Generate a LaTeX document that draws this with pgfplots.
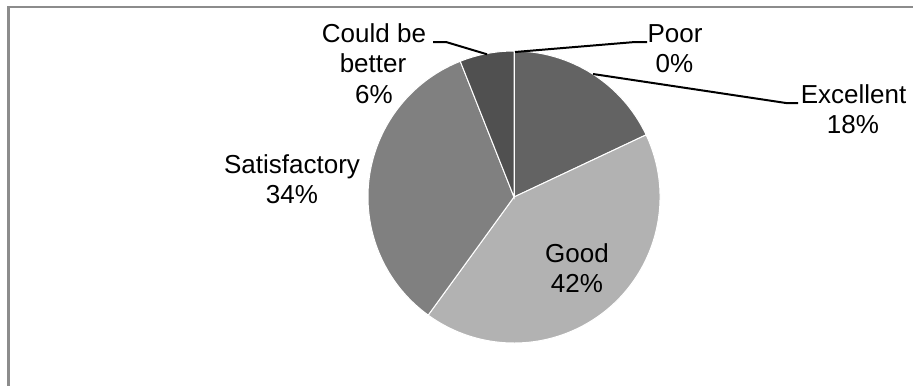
\documentclass[border=0pt]{standalone}
\usepackage{fontspec}
\setmainfont{Liberation Sans}
\usepackage{pgfplots}
\usepackage{pgfplotstable}
\pgfplotsset{compat=1.18}

\definecolor{cExc}{HTML}{636363}
\definecolor{cGood}{HTML}{B2B2B2}
\definecolor{cSat}{HTML}{808080}
\definecolor{cCould}{HTML}{505050}
\definecolor{cPoor}{HTML}{404040}
\definecolor{framegray}{HTML}{8C8C8C}

% survey answers, in percent (clockwise from 12 o'clock)
% 0 Excellent, 1 Good, 2 Satisfactory, 3 Could be better, 4 Poor
\pgfplotstableread{
idx value
0 18
1 42
2 34
3 6
4 0
}\piedata

% one wedge of the pie, from the precomputed start/end angles
\newcommand\slice[2]{%
  \edef\tmp{\noexpand\fill[#2, draw=white, line width=0.5pt]
    (axis cs:514,188) -- ++(\csname pieS#1\endcsname:73pt)
    arc[start angle=\csname pieS#1\endcsname, end angle=\csname pieE#1\endcsname, radius=73pt]
    -- cycle;}%
  \tmp}

\tikzset{lbl/.style={font=\fontsize{13}{15}\selectfont, anchor=base, inner sep=0pt},
         lead/.style={black, line width=1pt}}

\begin{document}
\begin{tikzpicture}
% cumulative angles of every wedge
\def\cum{0}
\pgfplotsforeachungrouped \i in {0,...,4}{%
  \pgfplotstablegetelem{\i}{value}\of\piedata
  \pgfmathsetmacro\angstart{90-3.6*\cum}%
  \pgfmathsetmacro\cum{\cum+\pgfplotsretval}%
  \pgfmathsetmacro\angend{90-3.6*\cum}%
  \expandafter\xdef\csname pieS\i\endcsname{\angstart}%
  \expandafter\xdef\csname pieE\i\endcsname{\angend}%
}
\begin{axis}[hide axis, scale only axis, width=456.5pt, height=192.5pt,
  xmin=0, xmax=913, ymin=0, ymax=385, clip=false]

% chart frame
\draw[framegray, line width=1.25pt] (axis cs:8.5,-30) -- (axis cs:8.5,378) -- (axis cs:960,378);

% wedges
\slice{0}{cExc}
\slice{1}{cGood}
\slice{2}{cSat}
\slice{3}{cCould}
\slice{4}{cPoor}

% leader lines
\draw[lead] (axis cs:433,343) -- (axis cs:446,343) -- (axis cs:487,330.7);
\draw[lead] (axis cs:515,333) -- (axis cs:635,343) -- (axis cs:647,343);
\draw[lead] (axis cs:593,311) -- (axis cs:786,282) -- (axis cs:798,282);

% data labels
\node[lbl] at (axis cs:374,343) {Could be};
\node[lbl] at (axis cs:373,312.5) {better};
\node[lbl] at (axis cs:374,282) {6\%};
\node[lbl] at (axis cs:675,343) {Poor};
\node[lbl] at (axis cs:674.5,313) {0\%};
\node[lbl] at (axis cs:853.5,282) {Excellent};
\node[lbl] at (axis cs:853,252) {18\%};
\node[lbl] at (axis cs:292,212) {Satisfactory};
\node[lbl] at (axis cs:292,182) {34\%};
\node[lbl] at (axis cs:577,123) {Good};
\node[lbl] at (axis cs:577,93) {42\%};
\end{axis}
\pgfresetboundingbox
\path[use as bounding box] (current axis.south west) rectangle (current axis.north east);
\end{tikzpicture}
\end{document}
